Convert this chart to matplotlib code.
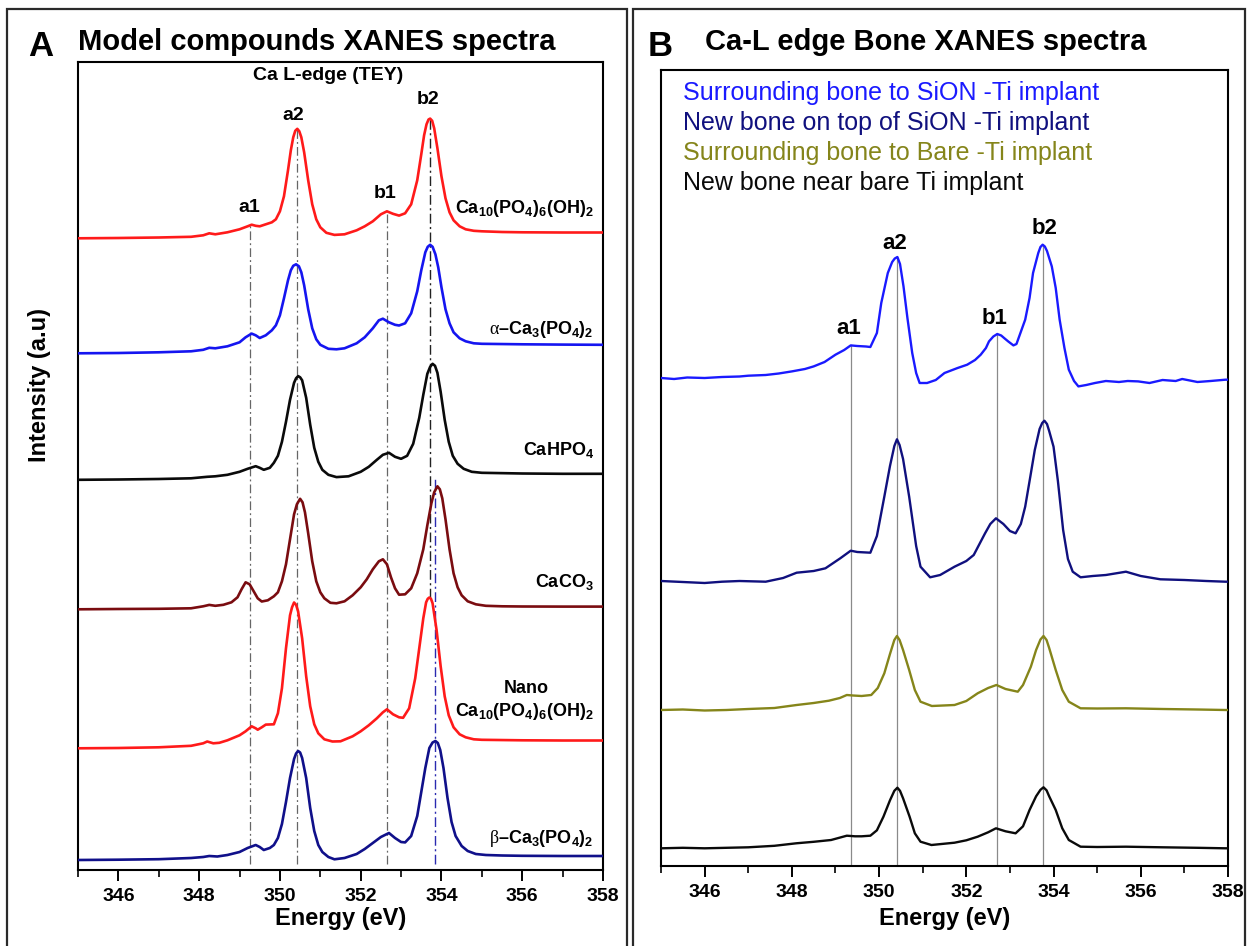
import matplotlib
matplotlib.use("Agg")
import matplotlib.pyplot as plt
from matplotlib.patches import Rectangle
from matplotlib.ticker import MultipleLocator

plt.rcParams['font.family'] = ['Liberation Sans', 'DejaVu Sans']
plt.rcParams['mathtext.fontset'] = 'custom'
plt.rcParams['mathtext.rm'] = 'Liberation Sans'
plt.rcParams['mathtext.bf'] = 'Liberation Sans:bold'
plt.rcParams['mathtext.it'] = 'Liberation Serif'

# ---------------- Panel A: model compounds (heights above each baseline) ----------------
hap_e = [345.0, 346.0, 347.0, 347.8, 348.1, 348.25, 348.4, 348.7, 349.0, 349.2, 349.3, 349.4,
         349.5, 349.65, 349.8, 349.9, 350.0, 350.1, 350.2, 350.27, 350.33, 350.38, 350.43,
         350.48, 350.53, 350.6, 350.7, 350.8, 350.9, 351.0, 351.15, 351.35, 351.6, 351.9, 352.1,
         352.3, 352.5, 352.65, 352.8, 352.95, 353.1, 353.25, 353.4, 353.5, 353.57, 353.63,
         353.68, 353.72, 353.77, 353.82, 353.9, 354.0, 354.1, 354.2, 354.3, 354.45, 354.6, 354.8,
         355.0, 355.5, 356.0, 357.0, 358.0]
hap_i = [0, 0.3, 0.8, 1.5, 3, 5, 4, 6, 9, 12, 13.6, 12.5,
         12, 14, 16, 19, 27, 42, 68, 88, 101, 107.5, 109.5,
         107, 101, 86, 58, 34, 19, 11, 5.5, 3.4, 4, 8, 12,
         17, 24, 27, 24.5, 22.7, 25, 34, 58, 84, 103, 114,
         118.8, 119.7, 117.5, 110, 90, 62, 40, 26, 18, 12, 9, 7.5,
         7, 6.3, 6, 5.8, 5.8]

atcp_e = [345.0, 346.0, 347.0, 347.8, 348.1, 348.25, 348.4, 348.7, 349.0, 349.15, 349.3, 349.4,
          349.5, 349.65, 349.8, 349.9, 350.0, 350.1, 350.2, 350.27, 350.33, 350.4, 350.47, 350.53,
          350.6, 350.7, 350.8, 350.9, 351.0, 351.2, 351.4, 351.6, 351.9, 352.1, 352.3, 352.45,
          352.55, 352.7, 352.85, 352.95, 353.1, 353.25, 353.4, 353.5, 353.6, 353.66, 353.72,
          353.78, 353.85, 353.92, 354.0, 354.1, 354.2, 354.3, 354.45, 354.6, 354.8, 355.0, 356.0,
          357.0, 358.0]
atcp_i = [0, 0.3, 1, 2, 3.5, 5.5, 5, 7, 11, 16, 19.7, 18,
          15.3, 18, 23, 28, 38, 55, 73, 83, 87.5, 89, 87, 81,
          68, 44, 25, 14, 8.5, 4.5, 4, 5, 10, 16, 25, 33,
          34.6, 31, 28.5, 27.8, 30, 40, 62, 83, 101, 106.5, 108.5,
          106.5, 99, 86, 66, 44, 30, 21, 15, 12, 10, 9.5, 9,
          8.7, 8.5]

cahpo4_e = [345.0, 346.0, 347.0, 347.8, 348.2, 348.4, 348.7, 349.0, 349.2, 349.4, 349.5, 349.6,
            349.75, 349.85, 349.95, 350.05, 350.15, 350.25, 350.35, 350.4, 350.45, 350.5, 350.55,
            350.65, 350.75, 350.85, 350.95, 351.05, 351.2, 351.4, 351.7, 352.0, 352.2, 352.4,
            352.55, 352.7, 352.85, 353.0, 353.15, 353.3, 353.45, 353.55, 353.65, 353.72, 353.78,
            353.84, 353.9, 353.98, 354.08, 354.18, 354.28, 354.4, 354.55, 354.75, 355.0, 356.0,
            357.0, 358.0]
cahpo4_i = [0, 0.3, 0.8, 1.5, 3, 3.5, 5, 8, 11, 13.6, 12, 10,
            12, 17, 24, 38, 58, 80, 97, 101.5, 103.7, 102.5, 99.5,
            82, 55, 32, 18, 10, 5, 2.7, 3.5, 8, 13, 20,
            25, 27, 23, 21, 24, 36, 62, 85, 106, 113, 116,
            114, 107, 88, 60, 38, 24, 16, 11, 8, 7, 6.3,
            6, 6]

caco3_e = [345.0, 346.0, 347.0, 347.8, 348.1, 348.25, 348.4, 348.6, 348.8, 348.95, 349.05, 349.15,
           349.25, 349.35, 349.45, 349.55, 349.7, 349.85, 349.95, 350.05, 350.15, 350.25, 350.35,
           350.42, 350.5, 350.56, 350.62, 350.7, 350.8, 350.9, 351.0, 351.1, 351.25, 351.4, 351.6,
           351.8, 352.0, 352.15, 352.3, 352.45, 352.55, 352.65, 352.75, 352.85, 352.95, 353.1,
           353.25, 353.4, 353.55, 353.65, 353.75, 353.82, 353.9, 353.96, 354.02, 354.1, 354.2,
           354.3, 354.4, 354.5, 354.65, 354.85, 355.1, 355.5, 356.0, 357.0, 358.0]
caco3_i = [0, 0.3, 0.5, 1, 3, 4.4, 3.5, 4.5, 7, 12, 20, 27,
           25, 18, 11, 7.8, 9, 13, 17, 28, 45, 70, 95,
           105, 110.5, 107, 97, 76, 48, 28, 17, 11, 6.5, 6, 8,
           14, 22, 30, 40, 48, 50, 45, 32, 21, 14.6, 15,
           21, 36, 60, 84, 106, 117, 123, 120, 111, 90, 60,
           36, 22, 14, 8, 5, 3.5, 3, 2.8, 2.7, 2.7]

nano_e = [345.0, 346.0, 347.0, 347.8, 348.1, 348.2, 348.35, 348.5, 348.7, 349.0, 349.15, 349.3,
          349.4, 349.45, 349.55, 349.65, 349.85, 349.95, 350.05, 350.15, 350.25, 350.3, 350.35,
          350.4, 350.45, 350.55, 350.65, 350.75, 350.85, 350.95, 351.1, 351.3, 351.5, 351.8,
          352.0, 352.2, 352.4, 352.55, 352.65, 352.8, 352.95, 353.05, 353.2, 353.35, 353.45,
          353.55, 353.62, 353.66, 353.7, 353.74, 353.78, 353.88, 353.98, 354.08, 354.18, 354.3,
          354.45, 354.6, 354.8, 355.0, 356.0, 357.0, 358.0]
nano_i = [0, 0.3, 1, 2.5, 5, 6.8, 5, 5.5, 8, 13, 17, 22,
          20, 18.6, 21, 23.7, 24, 35, 60, 100, 133, 141, 145.8,
          143.5, 137, 110, 72, 42, 24, 15, 9, 6.8, 7, 12,
          17, 23, 30, 36, 39, 34, 31, 30.5, 40, 70, 100,
          130, 146, 149.5, 150.8, 149.5, 145, 118, 82, 52, 33, 21,
          14, 11, 9, 8.5, 8, 7.8, 7.8]

btcp_e = [345.0, 346.0, 347.0, 347.8, 348.1, 348.25, 348.45, 348.7, 349.0, 349.2, 349.4, 349.5,
          349.6, 349.75, 349.85, 349.95, 350.05, 350.15, 350.25, 350.35, 350.4, 350.45, 350.5,
          350.55, 350.65, 350.75, 350.85, 350.95, 351.05, 351.2, 351.35, 351.6, 351.9, 352.1,
          352.3, 352.5, 352.7, 352.85, 353.0, 353.1, 353.25, 353.4, 353.5, 353.6, 353.7, 353.78,
          353.85, 353.91, 353.97, 354.05, 354.15, 354.25, 354.35, 354.5, 354.65, 354.85, 355.1,
          355.5, 356.0, 357.0, 358.0]
btcp_i = [0, 0.3, 0.8, 2, 3, 4, 3.5, 5, 8, 12, 15, 13,
          10, 12, 15, 22, 36, 58, 82, 101, 106.5, 109, 107.5,
          102, 82, 52, 29, 15, 8, 3, 0.7, 2, 6, 11,
          17, 23, 27, 22, 18, 17.6, 24, 44, 68, 92, 112, 117.5,
          119, 117, 110, 92, 62, 38, 24, 14, 9, 6, 5,
          4.5, 4.2, 4, 4]

model_offsets = [631.7, 516.7, 390.2, 260.7, 121.7, 10.0]
model_colors = ['#ff1a1a', '#1515f0', '#0a0a0a', '#7a0c10', '#ff1a1a', '#10108a']
model_labels = [r'$\mathbf{Ca_{10}(PO_{4})_{6}(OH)_{2}}$',
                r'$\alpha$' + '\u2013' + r'$\mathbf{Ca_{3}(PO_{4})_{2}}$',
                r'$\mathbf{CaHPO_{4}}$',
                r'$\mathbf{CaCO_{3}}$',
                r'$\mathbf{Ca_{10}(PO_{4})_{6}(OH)_{2}}$',
                r'$\beta$' + '\u2013' + r'$\mathbf{Ca_{3}(PO_{4})_{2}}$']
model_label_y = [661.7, 540.0, 420.0, 288.3, 158.3, 31.7]

peaks_a = ['a1', 'a2', 'b1', 'b2']
peaks_a_e = [349.27, 350.43, 352.65, 353.72]
peaks_a_label_e = [349.25, 350.32, 352.6, 353.66]
peaks_a_label_y = [662, 755, 676, 770]

# ---------------- Panel B: bone spectra (heights above each baseline) ----------------
sion_sur_e = [345.0, 345.3, 345.6, 346.0, 346.4, 346.8, 347.0, 347.4, 347.7, 348.0, 348.3, 348.5,
              348.75, 349.0, 349.2, 349.35, 349.5, 349.7, 349.8, 349.95, 350.05, 350.2, 350.3,
              350.36, 350.42, 350.48, 350.56, 350.65, 350.76, 350.85, 350.93, 351.1, 351.3, 351.5,
              351.8, 352.02, 352.2, 352.33, 352.45, 352.52, 352.62, 352.71, 352.8, 352.88, 352.96,
              353.08, 353.15, 353.35, 353.45, 353.53, 353.65, 353.7, 353.75, 353.8, 353.85,
              353.96, 354.05, 354.14, 354.25, 354.35, 354.47, 354.57, 354.75, 354.95, 355.2, 355.5,
              355.7, 355.94, 356.2, 356.5, 356.8, 356.95, 357.3, 357.6, 357.94, 358.0]
sion_sur_i = [0, -1, 0.5, 0, 1, 1.5, 2.3, 3, 4.5, 6.6, 9, 11.6,
              16, 23.3, 28, 32.6, 32, 31.5, 31, 45, 75, 105, 116,
              119.5, 121, 114, 91.6, 60, 25, 5, -5, -5, -2, 5,
              10, 13.3, 18, 23.3, 30, 36.6, 41.5, 44, 42.5, 39.5, 36.6,
              32.6, 34, 58.3, 80, 105, 125, 131, 133.3, 131.5, 127,
              111.6, 90, 58.3, 30, 8.3, -3, -8.4, -7, -5, -3, -4,
              -3, -3.4, -5, -2, -3, -1, -4, -3, -1.7, -1.7]

sion_new_e = [345.0, 345.5, 346.0, 346.4, 346.8, 347.4, 347.8, 348.11, 348.5, 348.77, 349.11,
              349.35, 349.5, 349.8, 349.95, 350.12, 350.25, 350.35, 350.41, 350.47, 350.55, 350.69,
              350.85, 350.95, 351.17, 351.4, 351.73, 352.0, 352.17, 352.43, 352.55, 352.68, 352.85,
              353.0, 353.13, 353.25, 353.35, 353.47, 353.57, 353.68, 353.74, 353.79, 353.85, 353.9,
              354.0, 354.1, 354.22, 354.33, 354.44, 354.62, 354.9, 355.2, 355.66, 356.0, 356.45,
              357.0, 357.5, 357.94, 358.0]
sion_new_i = [0, -1, -2, -0.7, 0, -0.7, 3, 8.3, 10, 12.7, 22.7,
              30.3, 29, 28.3, 45, 84.3, 115, 135, 141.7, 136, 122, 84.3,
              35, 14.3, 3.7, 6, 14.3, 20, 26, 47.7, 57, 62.7, 57,
              50, 47.7, 57, 74.3, 105, 131, 152, 158, 160.3, 157, 150,
              134.3, 100, 51, 22, 9.3, 3.7, 5, 6, 9.3, 5, 1.7,
              1, 0, -0.7, -0.7]

bare_sur_e = [345.0, 345.5, 346.0, 346.5, 347.0, 347.6, 348.11, 348.5, 348.85, 349.1, 349.26,
              349.4, 349.6, 349.82, 349.97, 350.12, 350.25, 350.35, 350.41, 350.47, 350.55, 350.69,
              350.82, 350.95, 351.21, 351.73, 352.0, 352.26, 352.5, 352.69, 352.9, 353.18, 353.3,
              353.48, 353.6, 353.7, 353.77, 353.84, 353.9, 354.05, 354.2, 354.35, 354.62, 355.0,
              355.66, 356.5, 357.3, 357.94, 358.0]
bare_sur_i = [0, 0.5, -0.5, 0, 1, 2, 5, 7, 9.3, 12, 15,
              14.5, 14, 15, 22, 36.7, 56, 70, 74, 70, 60, 40,
              20, 8.3, 4, 5, 9, 16.7, 22, 25, 21, 18.3, 25,
              43.3, 60, 70.5, 74, 70, 62, 40, 20, 8.3, 1.7, 1.5,
              1.7, 1, 0.5, 0, 0]

bare_new_e = [345.0, 345.5, 346.0, 346.5, 347.0, 347.6, 348.1, 348.5, 348.9, 349.26, 349.45,
              349.6, 349.8, 349.95, 350.1, 350.25, 350.35, 350.42, 350.48, 350.55, 350.7, 350.82,
              350.95, 351.2, 351.73, 352.0, 352.26, 352.5, 352.68, 352.9, 353.13, 353.3, 353.45,
              353.6, 353.7, 353.77, 353.84, 353.9, 354.05, 354.2, 354.35, 354.62, 355.0, 355.66,
              356.5, 357.3, 357.94, 358.0]
bare_new_i = [0, 0.5, 0, 0.5, 1, 2.5, 5, 6.5, 8.3, 12.6, 12,
              12, 12.6, 18, 31.6, 48, 57.5, 60.6, 57.5, 50, 31.6, 15,
              6.6, 3.3, 5.6, 8, 11.6, 16, 20, 17, 15, 22, 38.3,
              52, 58.5, 61, 58, 52, 38.3, 20, 8.3, 1.6, 1.3, 1.6,
              1, 0.5, 0, 0]

bone_offsets = [488.0, 285.0, 156.0, 17.7]
bone_colors = ['#1a1aff', '#10107e', '#85851a', '#0a0a0a']
bone_labels = ['Surrounding bone to SiON -Ti implant',
               'New bone on top of SiON -Ti implant',
               'Surrounding bone to Bare -Ti implant',
               'New bone near bare Ti implant']
bone_label_y = [772.7, 742.7, 713.3, 682.7]

peaks_b_e = [349.35, 350.42, 352.71, 353.75]
peaks_b_label_e = [349.3, 350.36, 352.65, 353.79]
peaks_b_label_y = [538, 623, 548, 638]

ticks = [346, 348, 350, 352, 354, 356, 358]

W, H = 1247, 946
fig = plt.figure(figsize=(W / 100, H / 100), dpi=100)

# panel frames
for x0, x1 in [(7, 627), (633, 1245)]:
    fig.patches.append(Rectangle((x0 / W, -0.05), (x1 - x0) / W, 1.05 - 9 / H,
                                 transform=fig.transFigure, fill=False,
                                 ec='#2a2a2a', lw=1.6))

axA = fig.add_axes([78 / W, 1 - 870 / H, (603 - 78) / W, (870 - 62) / H])
axB = fig.add_axes([661 / W, 1 - 866 / H, (1228 - 661) / W, (866 - 70) / H])


def style_axis(ax, ytop):
    ax.set_xlim(345, 358)
    ax.set_ylim(0, ytop)
    ax.set_yticks([])
    ax.set_xticks(ticks)
    ax.xaxis.set_minor_locator(MultipleLocator(1))
    ax.tick_params(axis='x', which='major', direction='out', length=8, width=1.4,
                   labelsize=14, pad=5)
    ax.tick_params(axis='x', which='minor', direction='out', length=5, width=1.2)
    for lbl in ax.get_xticklabels():
        lbl.set_fontweight('bold')
    for sp in ax.spines.values():
        sp.set_linewidth(1.5)


style_axis(axA, 808)
style_axis(axB, 796)

# ---- panel A curves
model_e = [hap_e, atcp_e, cahpo4_e, caco3_e, nano_e, btcp_e]
model_i = [hap_i, atcp_i, cahpo4_i, caco3_i, nano_i, btcp_i]
for e, i, off, c in zip(model_e, model_i, model_offsets, model_colors):
    axA.plot(e, [v + off for v in i], color=c, lw=1.9, zorder=3, solid_joinstyle='round')

dashdot = (0, (7, 2.5, 1.5, 2.5))
top_hap = model_offsets[0]
for name, pe in zip(peaks_a, peaks_a_e):
    k = min(range(len(hap_e)), key=lambda j: abs(hap_e[j] - pe))
    ytop = hap_i[k] + top_hap
    if name == 'b2':
        ytop_n = nano_i[nano_e.index(353.7)] + model_offsets[4]
        axA.plot([pe, pe], [ytop_n, ytop], color='#222222', lw=1.0, ls=dashdot, zorder=2)
    else:
        axA.plot([pe, pe], [6, ytop], color='#666666', lw=0.9, ls=dashdot, zorder=2)
# beta-TCP b2 reference line
axA.plot([353.84, 353.84], [6, model_offsets[2] + 2], color='#2a2ab0', lw=1.0, ls=dashdot, zorder=2)

for name, xe, ye in zip(peaks_a, peaks_a_label_e, peaks_a_label_y):
    axA.text(xe, ye, name, ha='center', va='center', fontsize=14, fontweight='bold')

axA.text(351.2, 794.5, 'Ca L-edge (TEY)', ha='center', va='center', fontsize=14, fontweight='bold')
for lab, yl in zip(model_labels, model_label_y):
    axA.text(357.77, yl, lab, ha='right', va='center', fontsize=13, fontweight='bold')
axA.text(356.1, 181.7, 'Nano', ha='center', va='center', fontsize=13, fontweight='bold')

# ---- panel B curves
bone_e = [sion_sur_e, sion_new_e, bare_sur_e, bare_new_e]
bone_i = [sion_sur_i, sion_new_i, bare_sur_i, bare_new_i]
for e, i, off, c in zip(bone_e, bone_i, bone_offsets, bone_colors):
    axB.plot(e, [v + off for v in i], color=c, lw=1.7, zorder=3, solid_joinstyle='round')

for pe in peaks_b_e:
    k = min(range(len(sion_sur_e)), key=lambda j: abs(sion_sur_e[j] - pe))
    axB.plot([pe, pe], [0, sion_sur_i[k] + bone_offsets[0]], color='#8a8a8a', lw=0.9, zorder=2)

for name, xe, ye in zip(peaks_a, peaks_b_label_e, peaks_b_label_y):
    axB.text(xe, ye, name, ha='center', va='center', fontsize=16, fontweight='bold')

for lab, yl, c in zip(bone_labels, bone_label_y, bone_colors):
    axB.text(345.5, yl, lab, ha='left', va='center', fontsize=18, color=c)

# ---- titles and axis labels
fig.text(41 / W, 1 - 46 / H, 'A', ha='center', va='center', fontsize=25, fontweight='bold')
fig.text(78 / W, 1 - 42 / H, 'Model compounds XANES spectra', ha='left', va='center',
         fontsize=21, fontweight='bold')
fig.text(660 / W, 1 - 46 / H, 'B', ha='center', va='center', fontsize=25, fontweight='bold')
fig.text(705 / W, 1 - 42 / H, 'Ca-L edge Bone XANES spectra', ha='left', va='center',
         fontsize=21, fontweight='bold')

fig.text(340.5 / W, 1 - 918 / H, 'Energy (eV)', ha='center', va='center', fontsize=17, fontweight='bold')
fig.text(944.5 / W, 1 - 918 / H, 'Energy (eV)', ha='center', va='center', fontsize=17, fontweight='bold')
fig.text(40 / W, 1 - 385 / H, 'Intensity (a.u)', ha='center', va='center', rotation=90,
         fontsize=17, fontweight='bold')

fig.savefig('out.png', dpi=100)
